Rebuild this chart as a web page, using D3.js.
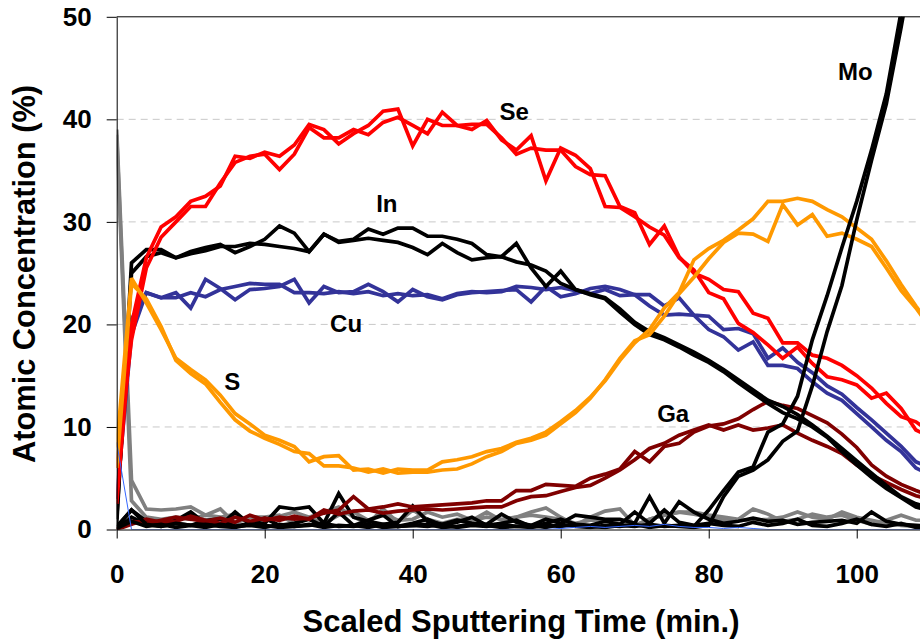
<!DOCTYPE html>
<html>
<head>
<meta charset="utf-8">
<script src="https://cdn.jsdelivr.net/npm/d3@7"></script>
<style>
  html, body { margin: 0; padding: 0; background: #fff; }
  svg { display: block; }
  text { font-family: "Liberation Sans", Arial, Helvetica, sans-serif; font-weight: bold; fill: #000; }
</style>
</head>
<body>
<svg id="chart" width="920" height="641"></svg>
<script>
// Sputtering time grid (min.), one sample every 2 minutes
const times = d3.range(0, 111, 2);

// Atomic concentration (%) per element, two depth-profile runs each
const seA = [2.5,20,26.5,29.5,30.5,32,32.5,33.5,36.4,36.2,36.8,36.4,37.5,39.5,39,37.6,38.6,39.4,40.8,41,37.4,40,39.4,39.4,39.5,39.5,38.2,36.6,37.2,37.0,37.0,35.4,34.6,34.5,31.5,30.9,27.8,29.6,26.6,25.0,24.4,23.4,23.2,21.1,20.6,18.2,18.2,17.0,16.7,16.0,15.0,13.8,12.3,11.0,10.5,9.5];
const seB = [6,18.5,25.5,28.5,30,31.5,31.5,33.8,35.8,36.4,36.6,35.1,36.6,39.2,38.2,38.2,39,38.5,39.7,40.2,39.4,38.6,40.7,39.4,39.0,39.9,38.0,37.0,38.4,34.0,37.2,36.5,35.2,31.5,31.4,30.5,29.5,28.7,26.5,25.3,23.1,22.5,20.1,19.2,18.0,16.7,17.8,16.2,14.9,14.6,14.1,12.8,13.3,11.8,9.7,9.0];

const inA = [0.5,26,27.3,27.3,26.5,27.1,27.5,27.8,27.0,27.6,28.3,29.6,28.9,27.1,28.8,28.1,28.3,29.3,28.8,29.4,29.4,28.6,28.6,28.3,27.9,26.8,26.6,27.9,25.5,23.7,25.2,23.4,23.0,22.6,21.5,20.2,19.3,18.7,18.0,17.3,16.5,15.6,14.6,13.6,12.6,12.0,11.2,10.2,9.1,7.9,6.7,5.5,4.3,3.2,2.5,2.1];
const inB = [1.0,25,26.6,27.0,26.5,26.9,27.2,27.6,27.6,27.9,27.8,27.6,27.4,27.1,28.8,28.0,28.2,28.4,28.2,28.0,27.5,26.8,27.9,27.0,26.3,26.5,26.6,26.1,25.8,25.2,24.0,23.4,22.9,22.5,21.2,20.0,19.0,18.5,17.8,17.0,16.3,15.4,14.3,13.3,12.3,11.4,10.8,10.0,9.0,7.6,6.3,5.1,4.0,3.1,2.2,1.8];

const cuA = [3,20.5,23.1,22.6,23.1,21.6,24.4,23.5,22.4,23.4,23.5,23.7,24.4,22.1,23.7,23.1,23.2,23.9,23.2,22.2,23.4,22.7,22.4,22.9,23.1,23.2,23.3,23.4,22.2,23.7,22.7,23.0,23.5,23.7,23.4,22.9,22.9,21.8,22.6,20.9,20.8,19.5,19.6,19.1,16.7,17.7,16.3,15.3,14.0,13.2,11.9,10.7,9.4,8.1,6.6,6.0];
const cuB = [3,19,23.1,22.6,22.6,23.1,22.7,23.4,23.7,24.0,23.9,23.9,23.1,23.1,23.0,23.2,23.0,23.2,22.8,23.0,22.8,22.9,22.5,23.0,23.2,23.1,23.2,23.7,23.6,23.4,23.6,23.3,23.0,23.4,22.8,22.9,21.8,20.9,21.0,20.9,19.5,18.8,17.5,18.3,16.0,16.0,15.7,14.4,13.3,12.6,11.3,10.0,8.7,7.6,6.0,5.3];

const sA = [8,24.5,22.1,19.5,16.7,15.6,14.6,13.1,11.3,10.3,9.2,8.7,8.1,6.6,7.1,7.2,5.8,5.9,5.5,5.9,5.8,5.8,6.6,6.8,7.1,7.6,7.9,8.5,8.9,9.5,10.5,11.6,12.9,14.5,16.5,18.2,19.5,21.6,23.1,26.3,27.4,28.2,29.2,30.3,32.0,32.0,32.3,32.0,31.2,30.5,29.4,28.3,26.2,23.9,21.8,19.8];
const sB = [6,24.0,22.5,19.8,16.5,15.2,14.2,12.4,10.7,9.6,8.9,8.3,7.6,7.4,6.2,6.2,6.0,5.6,5.9,5.5,5.6,5.6,5.8,5.9,6.4,7.1,7.6,8.4,8.7,9.2,10.3,11.4,12.8,14.6,16.7,18.4,19.0,20.8,23.0,24.6,26.4,28.0,28.9,28.8,28.1,31.7,29.7,30.7,28.6,28.9,28.3,27.6,25.5,23.3,21.6,19.6];

const gaA = [0,0.8,0.6,0.9,1.2,1.0,0.8,1.1,0.7,1.4,0.9,1.2,1.0,1.1,1.6,1.9,3.2,2.0,2.2,2.5,2.2,2.3,2.4,2.5,2.6,2.8,2.8,3.8,3.8,4.4,4.3,4.2,5.0,5.4,5.9,7.6,6.6,8.1,8.4,9.5,10.1,10.3,10.8,11.7,12.5,12.1,11.8,11.1,10.4,9.3,8.0,6.3,5.2,4.4,3.8,3.3];
const gaB = [0,0.5,1.0,0.7,0.8,1.3,0.9,0.6,1.2,0.8,1.1,0.9,1.3,1.0,1.9,1.5,1.8,1.9,1.6,1.8,1.9,2.0,1.9,2.0,2.1,2.2,2.2,2.8,3.2,3.3,3.7,4.1,4.3,5.0,5.8,6.8,7.9,8.4,9.2,9.7,10.2,9.7,10.2,9.7,9.9,10.2,9.4,8.7,8.1,7.4,6.3,5.3,4.6,3.9,3.3,2.9];

const moA = [0.3,1.9,0.5,0.3,0.6,0.4,0.2,0.5,0.3,0.4,0.2,0.5,0.3,0.4,0.6,0.3,0.4,0.2,0.5,0.3,0.4,0.3,0.5,0.2,0.4,0.3,0.5,0.3,0.2,0.4,0.3,0.5,0.3,0.2,0.4,0.3,0.5,0.3,0.4,0.3,1.9,3.8,5.6,6.1,9.5,10.3,13.0,18.5,22.8,27.5,32.0,37.0,42.5,50.5,58,65];
const moB = [0.1,0.8,0.3,0.5,0.2,0.4,0.5,0.3,0.2,0.5,0.4,0.2,0.3,0.5,0.2,0.4,0.3,0.5,0.2,0.3,0.4,0.5,0.2,0.3,0.5,0.4,0.2,0.3,0.4,0.2,0.5,0.3,0.2,0.4,0.3,0.5,0.2,0.4,0.3,0.2,0.4,3.2,5.2,5.8,6.8,8.6,9.6,14.0,19.3,23.8,30.2,36.0,41.5,49.0,57,64];

// Minor constituents hugging the baseline
const k1 = [0.2,1.9,0.8,0.5,0.9,1.7,0.6,0.4,1.7,0.5,0.6,2.2,2.0,2.2,0.6,3.5,1.2,0.8,0.5,0.7,2.3,0.8,0.5,0.9,0.6,0.5,1.5,0.7,0.4,1.0,0.6,1.4,1.2,1.0,1.0,0.6,3.2,0.6,2.7,1.7,1.0,0.6,0.8,1.1,0.8,0.9,0.5,0.7,0.8,0.9,0.6,1.7,0.8,0.5,0.4,0.3];
const k2 = [0,1.2,0.5,0.3,0.6,0.4,0.9,1.0,0.3,0.6,1.1,0.4,0.6,1.0,0.3,1.7,0.4,0.9,1.4,0.3,0.6,1.0,0.4,0.7,1.2,0.4,0.6,0.9,0.3,0.6,1.0,0.5,0.4,0.8,0.5,1.7,0.6,1.9,0.7,0.4,0.6,0.4,0.3,0.7,0.4,0.6,1.0,0.4,0.3,0.6,1.0,0.5,0.3,0.6,0.2,0.2];
const grayA = [39,4.8,2.0,1.9,2.0,2.2,1.4,2.0,0.6,1.2,1.2,1.4,0.6,1.2,1.7,2.2,1.2,0.6,2.0,0.7,1.9,1.0,0.6,1.0,0.9,1.7,0.9,1.2,1.7,2.1,1.2,0.4,1.2,1.8,2.0,0.4,1.0,1.4,1.7,1.7,1.4,1.2,1.0,2.0,1.5,0.8,1.0,1.5,1.2,1.4,0.9,0.5,0.9,1.4,0.9,0.9];
const grayB = [38.5,2.8,1.2,1.0,1.2,1.0,1.4,1.2,1.5,0.6,0.9,1.3,1.7,1.2,0.6,1.4,1.7,0.9,1.5,0.9,1.0,1.7,1.2,1.5,0.9,1.2,1.0,1.2,1.4,1.2,1.0,0.6,0.9,0.9,0.6,0.4,1.0,1.4,1.7,1.5,1.2,0.9,0.9,0.9,1.0,1.2,1.7,1.2,1.0,1.7,1.2,0.9,0.6,0.4,0.3,0.3];
const thinBlue = [8.5,0,0,0,0,0,0,0,0,0,0,0,0,0,0,0,0,0,0,0,0,0,0,0,0,0,0,0,0,0,0.1,0.2,0.3,0.2,0.3,0.4,0.3,0.5,0.3,0.2,0.2,0.1,0.2,0.1,0,0,0,0,0,0,0,0,0,0,0,0];

// Axis ticks
const xTicks = [0, 20, 40, 60, 80, 100];
const yTicks = [0, 10, 20, 30, 40, 50];

// Element labels placed next to their curves: [text, time, concentration at baseline]
const labelNames = ["Se", "In", "Cu", "S", "Ga", "Mo"];
const labelTimes = [53.7, 36.5, 31.0, 15.6, 75.2, 99.8];
const labelConc = [39.9, 30.95, 19.25, 13.6, 10.5, 43.8];

const svg = d3.select("#chart");
const margin = { left: 116.7, right: 0, top: 16.8, bottom: 111.5 };
const W = 920, H = 641;

const x = d3.scaleLinear().domain([0, 108.55]).range([margin.left, W - margin.right]);
const y = d3.scaleLinear().domain([0, 50]).range([H - margin.bottom, margin.top]);

// clip region for the plotted curves
svg.append("defs").append("clipPath").attr("id", "plotClip")
  .append("rect")
  .attr("x", x(0)).attr("y", y(50))
  .attr("width", x.range()[1] - x(0)).attr("height", y(0) - y(50));

// horizontal dashed gridlines
svg.append("g")
  .selectAll("line")
  .data(yTicks.filter(d => d > 0 && d < 50))
  .join("line")
  .attr("x1", x(0)).attr("x2", W)
  .attr("y1", d => y(d)).attr("y2", d => y(d))
  .attr("stroke", "#c8c8c8")
  .attr("stroke-width", 1)
  .attr("stroke-dasharray", "7,5");

// top frame line at 50 %
svg.append("line")
  .attr("x1", x(0)).attr("x2", W)
  .attr("y1", y(50)).attr("y2", y(50))
  .attr("stroke", "#000").attr("stroke-width", 1);

// series definitions: values, colour, width
const thick = 3.7;
const series = [
  { v: grayB, c: "#808080", w: thick },
  { v: grayA, c: "#808080", w: thick },
  { v: k2, c: "#000000", w: thick },
  { v: k1, c: "#000000", w: thick },
  { v: gaB, c: "#800000", w: thick },
  { v: gaA, c: "#800000", w: thick },
  { v: cuB, c: "#333399", w: thick },
  { v: cuA, c: "#333399", w: thick },
  { v: inB, c: "#000000", w: thick },
  { v: inA, c: "#000000", w: thick },
  { v: seB, c: "#ff0000", w: thick },
  { v: seA, c: "#ff0000", w: thick },
  { v: sB, c: "#ff9900", w: thick },
  { v: sA, c: "#ff9900", w: thick },
  { v: moB, c: "#000000", w: thick },
  { v: moA, c: "#000000", w: thick },
  { v: thinBlue, c: "#3366ff", w: 1 }
];

const line = d3.line()
  .x((d, i) => x(times[i]))
  .y(d => y(d));

svg.append("g")
  .attr("clip-path", "url(#plotClip)")
  .selectAll("path")
  .data(series)
  .join("path")
  .attr("d", s => line(s.v))
  .attr("fill", "none")
  .attr("stroke", s => s.c)
  .attr("stroke-width", s => s.w)
  .attr("stroke-linejoin", "miter")
  .attr("stroke-miterlimit", 3);

// axes
const yAxis = svg.append("g")
  .attr("transform", `translate(${x(0)},0)`)
  .call(d3.axisLeft(y).tickValues(yTicks).tickSize(10).tickPadding(15).tickSizeOuter(0));
yAxis.select(".domain").attr("stroke", "#000");
yAxis.selectAll("text").style("font-size", "26px");

const xAxis = svg.append("g")
  .attr("transform", `translate(0,${y(0)})`)
  .call(d3.axisBottom(x).tickValues(xTicks).tickSize(9).tickPadding(44).tickSizeOuter(0));
xAxis.select(".domain").attr("stroke", "#000");
xAxis.selectAll("text").style("font-size", "26px");
xAxis.selectAll(".tick text").attr("dy", "0");

// axis titles
svg.append("text")
  .attr("x", 521).attr("y", 632)
  .attr("text-anchor", "middle")
  .style("font-size", "31px")
  .text("Scaled Sputtering Time (min.)");

svg.append("text")
  .attr("transform", "translate(35,274) rotate(-90)")
  .attr("text-anchor", "middle")
  .style("font-size", "30.8px")
  .text("Atomic Concentration (%)");

// element labels
svg.append("g")
  .selectAll("text")
  .data(labelNames)
  .join("text")
  .attr("x", (d, i) => x(labelTimes[i]))
  .attr("y", (d, i) => y(labelConc[i]))
  .attr("text-anchor", "middle")
  .style("font-size", "24px")
  .text(d => d);
</script>
</body>
</html>
